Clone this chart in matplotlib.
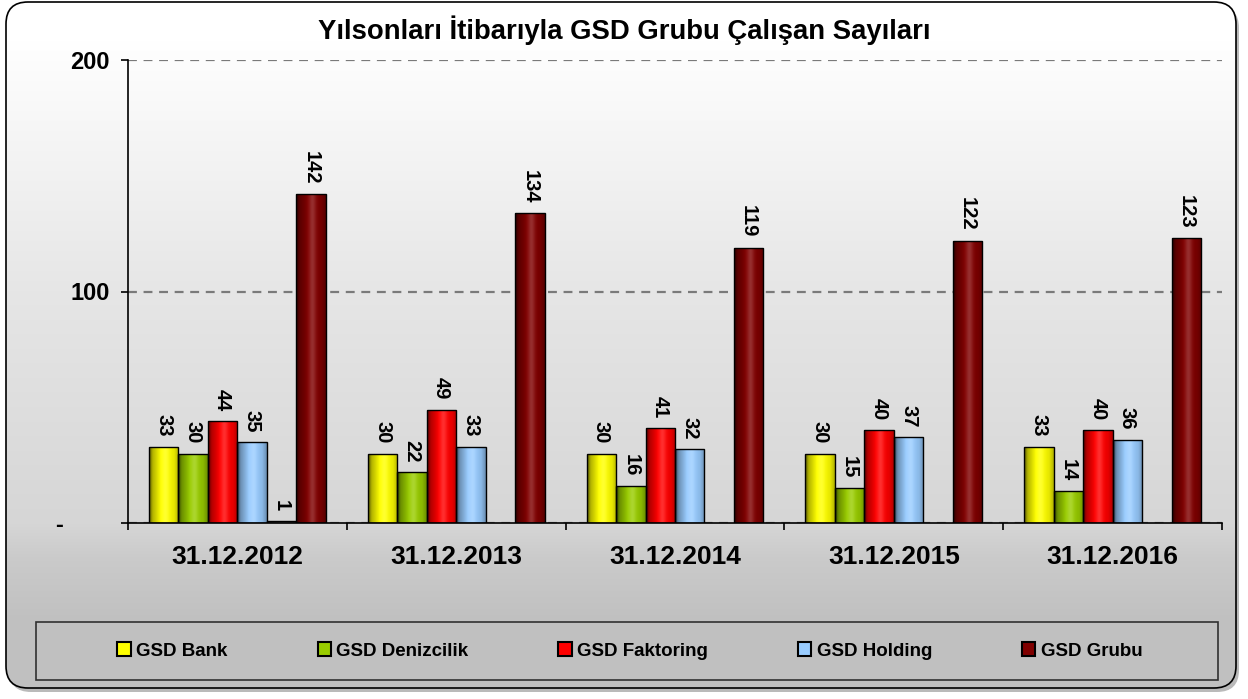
import numpy as np
import matplotlib
matplotlib.use('Agg')
import matplotlib.pyplot as plt
from matplotlib.patches import FancyBboxPatch, Rectangle, Patch
from matplotlib.colors import to_rgb

plt.rcParams['font.family'] = ['Liberation Sans', 'DejaVu Sans']
plt.rcParams['font.weight'] = 'bold'

# data
years = ['31.12.2012', '31.12.2013', '31.12.2014', '31.12.2015', '31.12.2016']
bank = [33, 30, 30, 30, 33]
denizcilik = [30, 22, 16, 15, 14]
faktoring = [44, 49, 41, 40, 40]
holding = [35, 33, 32, 37, 36]
other = [1, None, None, None, None]   # unnamed series, not in legend
grubu = [142, 134, 119, 122, 123]

names = ['GSD Bank', 'GSD Denizcilik', 'GSD Faktoring', 'GSD Holding', None, 'GSD Grubu']
colors = ['#FFFF00', '#99CC00', '#FF0000', '#99CCFF', '#969696', '#800000']
series = [bank, denizcilik, faktoring, holding, other, grubu]

title = 'Yılsonları İtibarıyla GSD Grubu Çalışan Sayıları'
W, H = 1248, 699


def shade_bar(ax, patch, color):
    # horizontal cylinder-like gradient clipped to the bar
    x0, y0 = patch.get_x(), patch.get_y()
    w, h = patch.get_width(), patch.get_height()
    t = np.linspace(0, 1, 64)
    f = np.interp(t, [0, 0.12, 0.4, 0.6, 0.85, 1], [0.35, 0.7, 1.0, 1.0, 0.9, 0.7])
    rgb = np.array(to_rgb(color))
    img = np.clip(rgb[None, :] * f[:, None], 0, 1)
    hl = np.exp(-((t - 0.55) / 0.12) ** 2) * 0.18
    img = img + (1 - img) * hl[:, None]
    im = ax.imshow(img[None, :, :], extent=(x0, x0 + w, y0, y0 + h), aspect='auto',
                   zorder=2, interpolation='bilinear')
    im.set_clip_path(patch)


fig = plt.figure(figsize=(W / 100, H / 100), dpi=100, facecolor='white')

# background: rounded frame with vertical gradient
bg = fig.add_axes([0, 0, 1, 1])
bg.set_axis_off()
bg.set_xlim(0, W)
bg.set_ylim(H, 0)
shadow = FancyBboxPatch((9, 6), 1230, 686, boxstyle='round,pad=0,rounding_size=22',
                        facecolor='#8c8c8c', edgecolor='none', alpha=0.6, zorder=0)
bg.add_patch(shadow)
frame = FancyBboxPatch((6, 2), 1230, 686, boxstyle='round,pad=0,rounding_size=22',
                       facecolor='none', edgecolor='black', linewidth=1.2, zorder=3)
bg.add_patch(frame)
yy = np.arange(H)
vals = np.interp(yy, [40, 290, 523, 560, 620], [255, 230, 214, 202, 192]) / 255.0
grad = np.repeat(vals[:, None, None], 3, axis=2)
im = bg.imshow(grad, extent=(0, W, H, 0), aspect='auto', zorder=1)
im.set_clip_path(frame)
bg.set_xlim(0, W)
bg.set_ylim(H, 0)
bg.add_patch(Rectangle((36, 622), 1182, 58, facecolor='#c0c0c0', edgecolor='#303030',
                       linewidth=1.2, zorder=2))

# main plot
ax = fig.add_axes([128 / W, 176 / H, 1094 / W, 463 / H])
ax.set_facecolor('none')
x = np.arange(len(years))
bw = 29.5 / 219.0
for j, (vals_s, col) in enumerate(zip(series, colors)):
    off = (j - 2.5) * bw
    idx = [i for i, v in enumerate(vals_s) if v is not None]
    hs = [vals_s[i] for i in idx]
    bars = ax.bar(x[idx] + off, hs, width=bw, facecolor='none', edgecolor='black',
                  linewidth=1, zorder=3)
    for b, v in zip(bars, hs):
        shade_bar(ax, b, col)
        ax.annotate(str(v), (b.get_x() + bw / 2, v), xytext=(0, 7), textcoords='offset points',
                    ha='center', va='bottom', rotation=-90, fontsize=14.5, fontweight='bold')

ax.set_xlim(-0.5, len(years) - 0.5)
ax.set_ylim(0, 200)
ax.set_yticks([0, 100, 200])
ax.set_yticklabels(['-       ', '100', '200'], fontsize=17, fontweight='bold')
ax.yaxis.grid(True, linestyle=(0, (4, 3)), color='#7a7a7a', linewidth=1.6)
ax.set_axisbelow(True)
ax.set_xticks(x)
ax.set_xticklabels(years, fontsize=19, fontweight='bold')
ax.set_xticks(np.arange(-0.5, len(years)), minor=True)
ax.tick_params(axis='x', which='major', length=0, pad=16)
ax.tick_params(axis='x', which='minor', length=5, direction='out', width=1.2)
ax.tick_params(axis='y', length=5, direction='out', width=1.2, pad=8)
for s in ['top', 'right']:
    ax.spines[s].set_visible(False)
for s in ['left', 'bottom']:
    ax.spines[s].set_linewidth(1.2)

fig.text(0.5, 1 - 30 / H, title, ha='center', va='center', fontsize=19.8, fontweight='bold')

handles = [Patch(facecolor=c, edgecolor='black', linewidth=1.5)
           for c, n in zip(colors, names) if n is not None]
labels = [n for n in names if n is not None]
fig.legend(handles, labels, loc='center', bbox_to_anchor=(630 / W, 1 - 651 / H), ncol=5,
           frameon=False, prop={'weight': 'bold', 'size': 13.5}, handlelength=0.7,
           handleheight=0.7, handletextpad=0.3, columnspacing=4.8)

fig.savefig('out.png', dpi=100, facecolor='white')
